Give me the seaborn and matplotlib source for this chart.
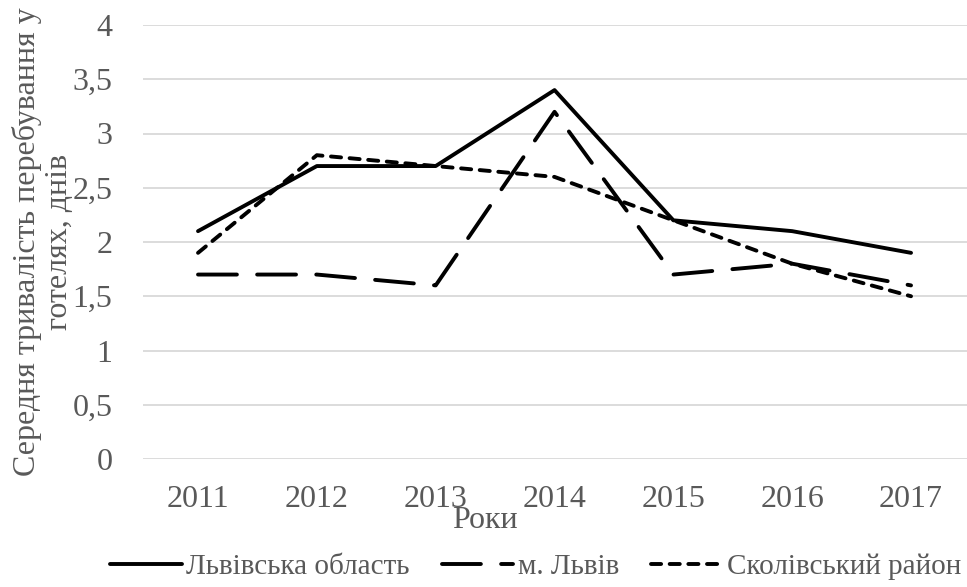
import pandas as pd
import matplotlib.pyplot as plt
import seaborn as sns
from matplotlib.ticker import FuncFormatter, MultipleLocator

# Data
years = ['2011', '2012', '2013', '2014', '2015', '2016', '2017']
lviv_oblast = [2.1, 2.7, 2.7, 3.4, 2.2, 2.1, 1.9]
lviv_city = [1.7, 1.7, 1.6, 3.2, 1.7, 1.8, 1.6]
skole_raion = [1.9, 2.8, 2.7, 2.6, 2.2, 1.8, 1.5]
series_names = ['Львівська область', 'м. Львів', 'Сколівський район']

df = pd.DataFrame({
    'year': years * 3,
    'value': lviv_oblast + lviv_city + skole_raion,
    'series': [series_names[0]] * 7 + [series_names[1]] * 7 + [series_names[2]] * 7,
})

sns.set_style('white')
plt.rcParams['font.family'] = ['Liberation Serif', 'DejaVu Serif']

fig = plt.figure(figsize=(9.67, 5.87), dpi=100)
ax = fig.add_axes([143 / 967, 1 - 459 / 587, 824 / 967, 434 / 587])

lw = 2.8
dashes = {
    series_names[0]: '',
    series_names[1]: (10.0, 5.2),
    series_names[2]: (2.6, 2.2),
}
sns.lineplot(data=df, x='year', y='value', style='series', dashes=dashes,
             color='black', linewidth=lw, ax=ax, legend=False)

for line in ax.get_lines():
    line.set_dash_capstyle('round')
    line.set_solid_capstyle('round')
    line.set_solid_joinstyle('round')
    line.set_dash_joinstyle('round')

ax.set_ylim(0, 4)
ax.set_xlim(-0.463, 6.471)
ax.yaxis.set_major_locator(MultipleLocator(0.5))
ax.yaxis.set_major_formatter(FuncFormatter(lambda v, p: f'{v:g}'.replace('.', ',')))
ax.grid(axis='y', color='#d9d9d9', linewidth=1.3)
ax.set_axisbelow(True)
for s in ax.spines.values():
    s.set_visible(False)

grey = '#595959'
ax.tick_params(axis='both', length=0, labelsize=23, labelcolor=grey)
ax.tick_params(axis='y', pad=22)
ax.tick_params(axis='x', pad=19)

ax.set_xlabel('Роки', fontsize=23, color=grey)
ax.xaxis.set_label_coords((485 - 143) / 824, (459 - 520) / 434)
ax.xaxis.label.set_verticalalignment('center')

ax.set_ylabel('Середня тривалість перебування у\nготелях, днів', fontsize=23,
              color=grey, linespacing=1.12)
ax.yaxis.set_label_coords(-(143 - 43) / 824, 0.5)
ax.yaxis.label.set_verticalalignment('center')

handles = ax.get_lines()[:3]
leg = fig.legend(handles, series_names, loc='center', bbox_to_anchor=(0.554, 0.034),
                 ncol=3, frameon=False, fontsize=21, handlelength=2.45,
                 handletextpad=0.15, columnspacing=1.1)
for t in leg.get_texts():
    t.set_color(grey)

plt.savefig('out.png', dpi=100)
